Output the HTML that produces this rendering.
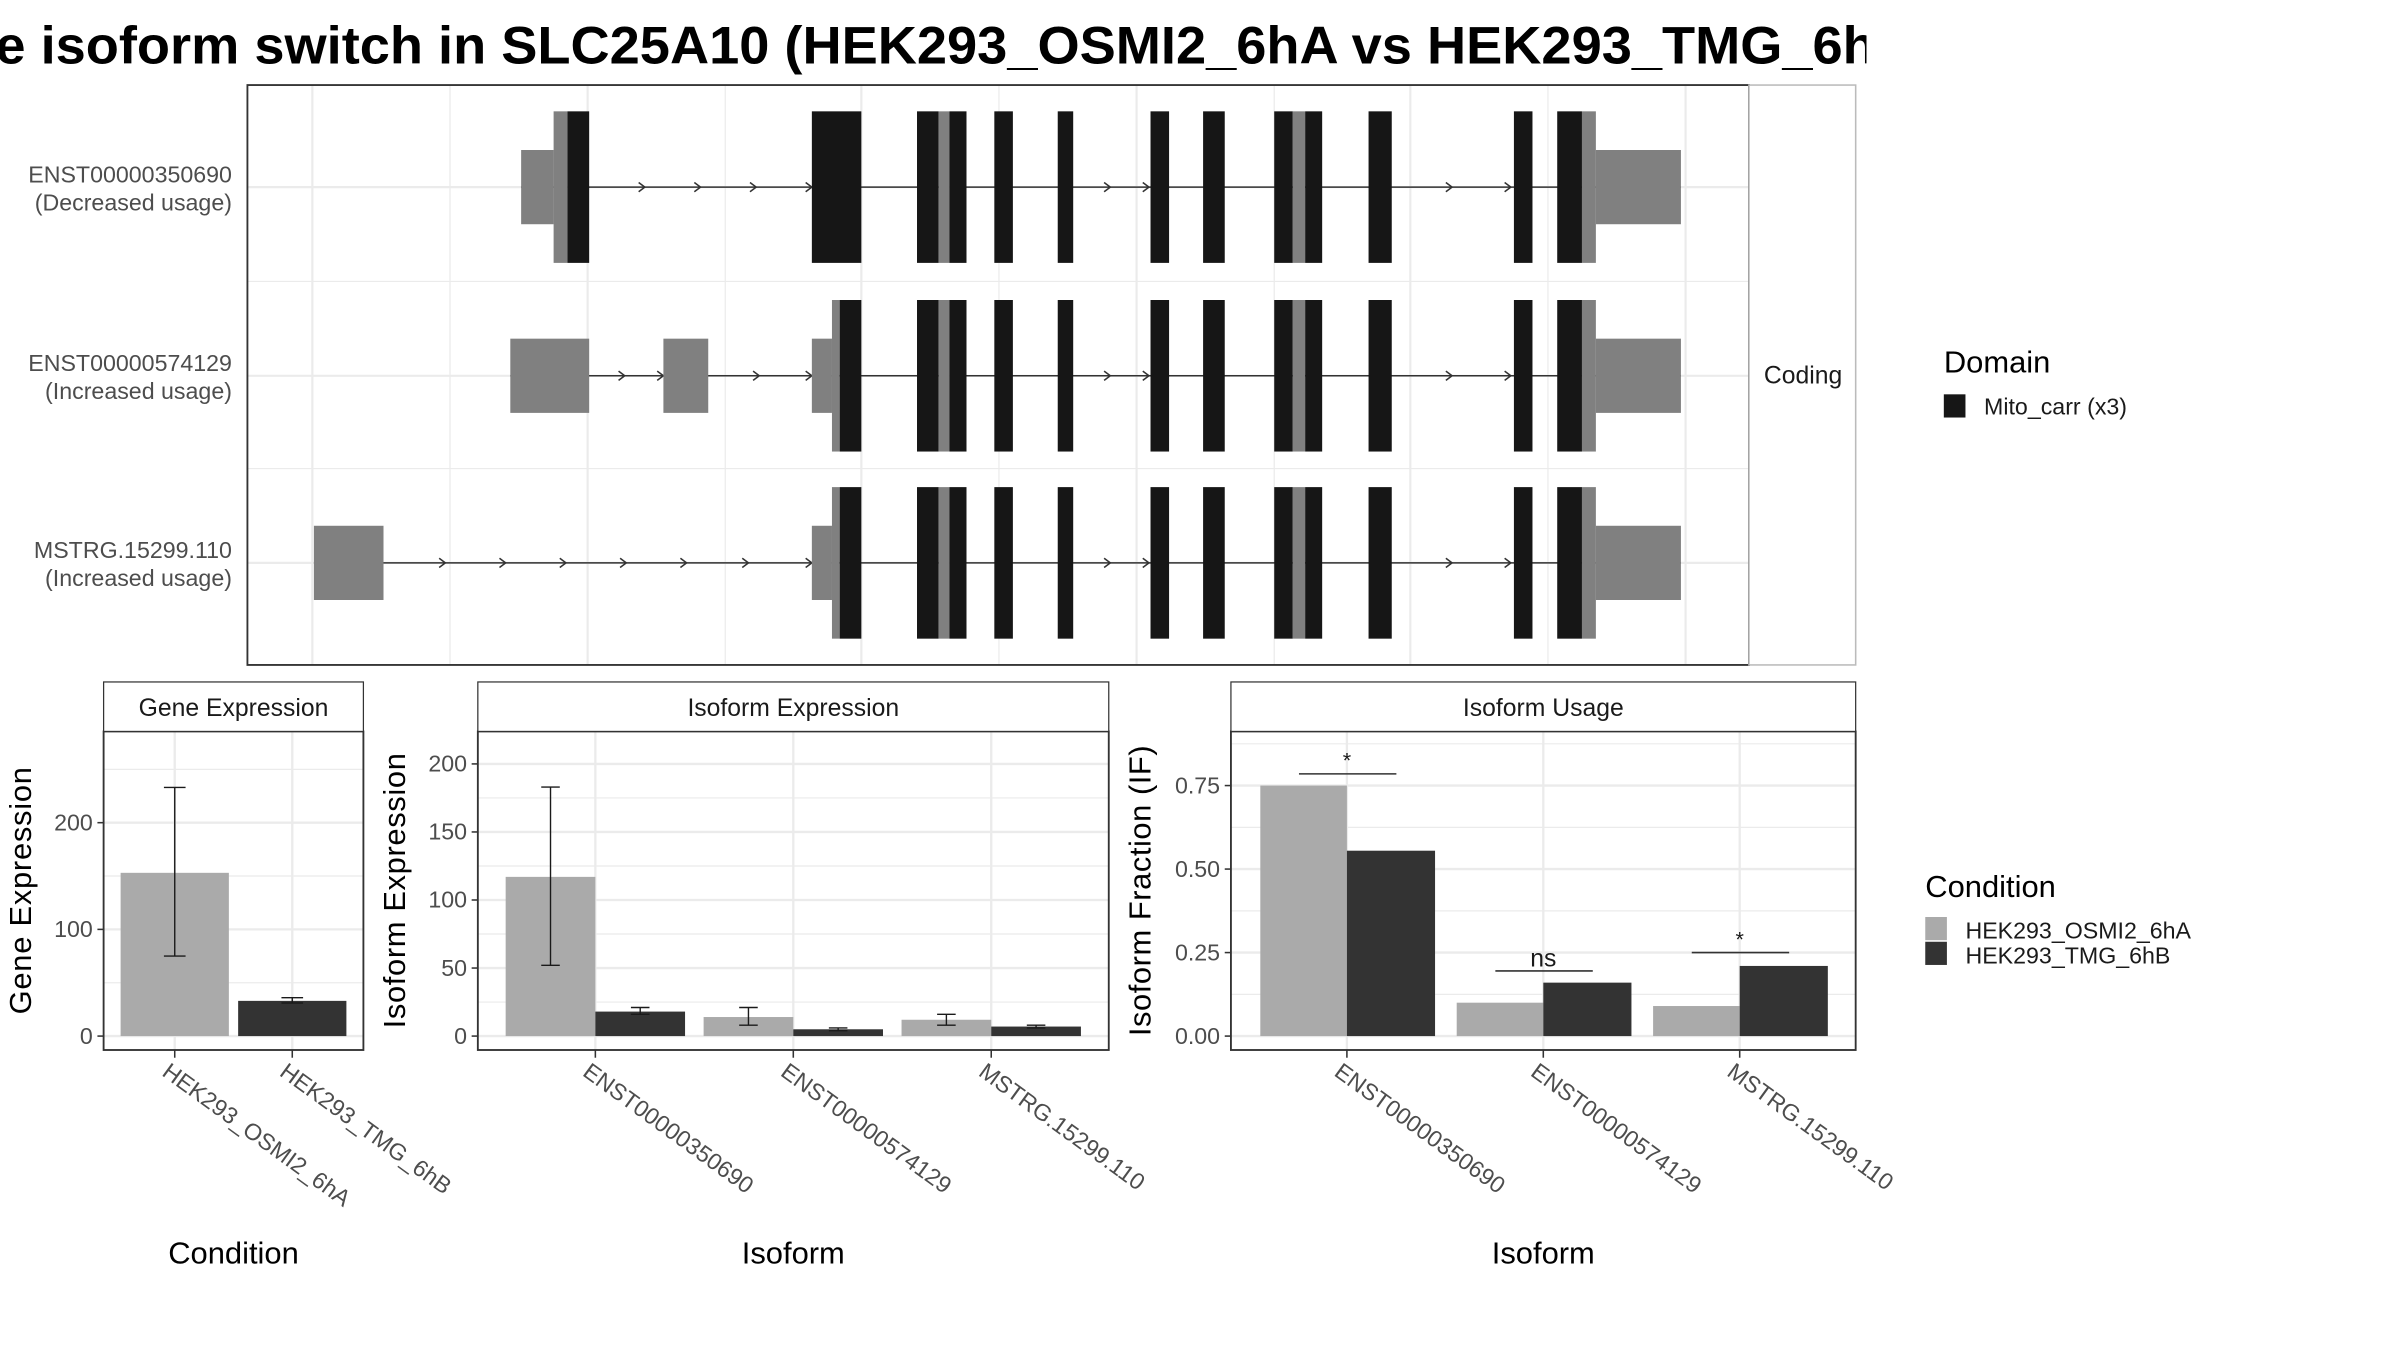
<!DOCTYPE html>
<html><head><meta charset="utf-8"><style>
html,body{margin:0;padding:0;background:#fff;}
svg{display:block;font-family:"Liberation Sans",sans-serif;}
</style></head><body>
<svg id="fig" xmlns="http://www.w3.org/2000/svg" width="2400" height="1350" viewBox="0 0 1552 873" preserveAspectRatio="none">
<defs><clipPath id="tclip"><rect x="0" y="0" width="1207" height="60"/></clipPath></defs>
<rect x="0" y="0" width="1552" height="873" fill="#fff"/>
<g clip-path="url(#tclip)"><text x="-3" y="41" font-size="34" font-weight="bold" textLength="1216" lengthAdjust="spacingAndGlyphs">e isoform switch in SLC25A10 (HEK293_OSMI2_6hA vs HEK293_TMG_6h</text></g>
<g id="topPanel"></g>
<g id="bottomPanels"></g>
<g id="legendGroup"></g>
</svg>
<script>
// ---------- transcript structure data (genomic offset units) ----------
const transcriptNames = ["ENST00000350690", "ENST00000574129", "MSTRG.15299.110"];
const transcriptNotes = ["(Decreased usage)", "(Increased usage)", "(Increased usage)"];
const sharedExons = [[433,447,"d"],[447,454,"c"],[454,465,"d"],[483,495,"d"],[524,534,"d"],[584,596,"d"],[618,632,"d"],[664,676,"d"],[676,684,"c"],[684,695,"d"],[725,740,"d"],[819,831,"d"],[847,863,"d"],[863,872,"c"],[872,927,"u"]];
const headExons1 = [[177,198,"u"],[198,207,"c"],[207,221,"d"],[365,397,"d"]];
const headExons2 = [[170,221,"u"],[269,298,"u"],[365,378,"u"],[378,383,"c"],[383,397,"d"]];
const headExons3 = [[43,88,"u"],[365,378,"u"],[378,383,"c"],[383,397,"d"]];
const arrows1 = [257,293,329,365,558,583,779,817];
const arrows2 = [244,269,331,365,558,583,779,817];
const arrows3 = [128,167,206,245,284,324,365,558,583,779,817];

// ---------- expression data ----------
const conditions = ["HEK293_OSMI2_6hA", "HEK293_TMG_6hB"];
const isoforms = ["ENST00000350690", "ENST00000574129", "MSTRG.15299.110"];
const geneExpr = [153, 33];
const geneLo = [75, 31];
const geneHi = [233, 36];
const geneTicks = [0, 100, 200];
const isoExprA = [117, 14, 12];
const isoExprB = [18, 5, 7];
const isoLoA = [52, 8, 8];
const isoHiA = [183, 21, 16];
const isoLoB = [16, 4, 6];
const isoHiB = [21, 6, 8];
const isoTicks = [0, 50, 100, 150, 200];
const ifA = [0.75, 0.10, 0.09];
const ifB = [0.555, 0.16, 0.21];
const ifTicks = [0, 0.25, 0.5, 0.75];
const ifTickLabels = ["0.00", "0.25", "0.50", "0.75"];
const sigLabels = ["*", "ns", "*"];
const sigLevels = [0.785, 0.195, 0.25];

const NS = "http://www.w3.org/2000/svg";
function mk(parent, tag, attrs, text) {
  const el = document.createElementNS(NS, tag);
  for (const k in attrs) el.setAttribute(k, attrs[k]);
  if (text !== undefined) el.textContent = text;
  parent.appendChild(el);
  return el;
}
const LIGHT = "#aaaaaa", DARK = "#333333", GRID = "#ebebeb", TICK = "#4d4d4d";

// ---------- top panel ----------
const topG = document.getElementById("topPanel");
const xg = p => 160 + p;
const rowY = [121, 243, 364];
let e;
[42, 131, 220, 309, 397, 486, 575, 664, 752, 841, 930].forEach((p, i) => {
  e = mk(topG, "line", {x1: xg(p), x2: xg(p), y1: 55, y2: 430, stroke: GRID, "stroke-width": i % 2 === 0 ? 1.4 : 0.8});
  
  
});
[121, 182, 243, 303, 364].forEach((y, i) => {
  e = mk(topG, "line", {x1: 160, x2: 1131, y1: y, y2: y, stroke: GRID, "stroke-width": i % 2 === 0 ? 1.4 : 0.8});
  
  
});
const heads = [headExons1, headExons2, headExons3];
const arrs = [arrows1, arrows2, arrows3];
transcriptNames.forEach((name, r) => {
  const y = rowY[r];
  const ex = heads[r].concat(sharedExons);
  const s = Math.min(...ex.map(d => d[0])), t = Math.max(...ex.map(d => d[1]));
  e = mk(topG, "line", {x1: xg(s), x2: xg(t), y1: y, y2: y, stroke: "#333", "stroke-width": 1});
  
  
  arrs[r].forEach(a => {
    e = mk(topG, "path", {d: `M${xg(a)-4},${y-3} L${xg(a)},${y} L${xg(a)-4},${y+3}`, stroke: "#333", fill: "none", "stroke-width": 1});
    
    
  });
  ex.forEach(d => {
    const h = d[2] === "u" ? 24 : 49;
    e = mk(topG, "rect", {x: xg(d[0]), y: y - h, width: d[1] - d[0], height: 2 * h, fill: d[2] === "d" ? "#161616" : "#808080"});
    
    
  });
  e = mk(topG, "text", {x: 150, y: y - 3, "text-anchor": "end", "font-size": 15, fill: TICK}, name);
  
  
  e = mk(topG, "text", {x: 150, y: y + 15, "text-anchor": "end", "font-size": 15, fill: TICK}, transcriptNotes[r]);
  
  
});
e = mk(topG, "rect", {x: 160, y: 55, width: 971, height: 375, fill: "none", stroke: "#333", "stroke-width": 1.2});


e = mk(topG, "rect", {x: 1131, y: 55, width: 69, height: 375, fill: "#fff", stroke: "#bbb", "stroke-width": 1});


e = mk(topG, "text", {x: 1166, y: 248, "text-anchor": "middle", "font-size": 16, fill: "#1a1a1a"}, "Coding");



// ---------- bottom panels ----------
const bottomG = document.getElementById("bottomPanels");
function panel(cfg) {
  const g = mk(bottomG, "g", {});
  
  
  const x0 = cfg.x0, x1 = cfg.x1, ticks = cfg.ticks, tickLabels = cfg.tickLabels;
  const py0 = 473, py1 = 679, zeroY = 670;
  const ys = v => zeroY - v * cfg.k;
  for (let i = 0; i < ticks.length; i++) {
    const mid = i + 1 < ticks.length ? (ticks[i] + ticks[i + 1]) / 2 : ticks[i] + (ticks[1] - ticks[0]) / 2;
    if (ys(mid) > py0) { e = mk(g, "line", {x1: x0, x2: x1, y1: ys(mid), y2: ys(mid), stroke: GRID, "stroke-width": 0.8});   }
  }
  ticks.forEach((t, i) => {
    e = mk(g, "line", {x1: x0, x2: x1, y1: ys(t), y2: ys(t), stroke: GRID, "stroke-width": 1.5});
    
    
    e = mk(g, "line", {x1: x0 - 4, x2: x0, y1: ys(t), y2: ys(t), stroke: "#333", "stroke-width": 1});
    
    
    e = mk(g, "text", {x: x0 - 7, y: ys(t) + 5, "text-anchor": "end", "font-size": 15, fill: TICK}, tickLabels[i]);
    
    
  });
  cfg.cats.forEach((c, i) => {
    const cx = cfg.cx[i];
    e = mk(g, "line", {x1: cx, x2: cx, y1: py0, y2: py1, stroke: GRID, "stroke-width": 1.5});
    
    
  });
  cfg.draw(g, ys);
  cfg.cats.forEach((c, i) => {
    const cx = cfg.cx[i];
    e = mk(g, "line", {x1: cx, x2: cx, y1: py1, y2: py1 + 5, stroke: "#333", "stroke-width": 1});
    
    
    e = mk(g, "text", {x: 0, y: 0, "font-size": 15, fill: TICK, transform: `translate(${cx - 9},${py1 + 16}) rotate(36)`}, c);
    
    
  });
  e = mk(g, "rect", {x: x0, y: py0, width: x1 - x0, height: py1 - py0, fill: "none", stroke: "#333", "stroke-width": 1.2});
  
  
  e = mk(g, "rect", {x: x0, y: 441, width: x1 - x0, height: 32, fill: "#fff", stroke: "#333", "stroke-width": 0.8});
  
  
  e = mk(g, "text", {x: (x0 + x1) / 2, y: 463, "text-anchor": "middle", "font-size": 16, fill: "#1a1a1a"}, cfg.strip);
  
  
  e = mk(g, "text", {x: 0, y: 0, "text-anchor": "middle", "font-size": 20, textLength: cfg.ytLen, lengthAdjust: "spacing", transform: `translate(${cfg.ytX},576) rotate(-90)`}, cfg.ytitle);
  
  
  e = mk(g, "text", {x: (x0 + x1) / 2, y: 817, "text-anchor": "middle", "font-size": 20}, cfg.xtitle);
  
  
}
function errbar(g, cx, ylo, yhi, w) {
  e = mk(g, "path", {d: `M${cx},${ylo} L${cx},${yhi} M${cx - w},${ylo} L${cx + w},${ylo} M${cx - w},${yhi} L${cx + w},${yhi}`, stroke: "#1a1a1a", fill: "none", "stroke-width": 0.9});
  
  
}
panel({name: "gene-expression-panel", x0: 67, x1: 235, k: 0.69, ticks: geneTicks, tickLabels: geneTicks.map(String),
  cats: conditions, cx: [113, 189], strip: "Gene Expression", ytitle: "Gene Expression", ytX: 20, ytLen: 160, xtitle: "Condition",
  draw: (g, ys) => {
    geneExpr.forEach((v, i) => {
      const cx = [113, 189][i];
      e = mk(g, "rect", {x: cx - 35, y: ys(v), width: 70, height: ys(0) - ys(v), fill: i === 0 ? LIGHT : DARK});
      
      
      errbar(g, cx, ys(geneLo[i]), ys(geneHi[i]), 7);
    });
  }});
panel({name: "isoform-expression-panel", x0: 309, x1: 717, k: 0.88, ticks: isoTicks, tickLabels: isoTicks.map(String),
  cats: isoforms, cx: [385, 513, 641], strip: "Isoform Expression", ytitle: "Isoform Expression", ytX: 262, ytLen: 178, xtitle: "Isoform",
  draw: (g, ys) => {
    isoforms.forEach((c, i) => {
      const cx = [385, 513, 641][i];
      e = mk(g, "rect", {x: cx - 58, y: ys(isoExprA[i]), width: 58, height: ys(0) - ys(isoExprA[i]), fill: LIGHT});
      
      
      e = mk(g, "rect", {x: cx, y: ys(isoExprB[i]), width: 58, height: ys(0) - ys(isoExprB[i]), fill: DARK});
      
      
      errbar(g, cx - 29, ys(isoLoA[i]), ys(isoHiA[i]), 6);
      errbar(g, cx + 29, ys(isoLoB[i]), ys(isoHiB[i]), 6);
    });
  }});
panel({name: "isoform-usage-panel", x0: 796, x1: 1200, k: 216, ticks: ifTicks, tickLabels: ifTickLabels,
  cats: isoforms, cx: [871, 998, 1125], strip: "Isoform Usage", ytitle: "Isoform Fraction (IF)", ytX: 744, ytLen: 188, xtitle: "Isoform",
  draw: (g, ys) => {
    isoforms.forEach((c, i) => {
      const cx = [871, 998, 1125][i];
      e = mk(g, "rect", {x: cx - 56, y: ys(ifA[i]), width: 56, height: ys(0) - ys(ifA[i]), fill: LIGHT});
      
      
      e = mk(g, "rect", {x: cx, y: ys(ifB[i]), width: 57, height: ys(0) - ys(ifB[i]), fill: DARK});
      
      
      const sy = ys(sigLevels[i]);
      e = mk(g, "line", {x1: cx - 31, x2: cx + 32, y1: sy, y2: sy, stroke: "#333", "stroke-width": 1});
      
      
      e = mk(g, "text", {x: cx, y: sy - (sigLabels[i] === "*" ? 4 : 3), "text-anchor": "middle", "font-size": sigLabels[i] === "*" ? 14 : 16, fill: "#1a1a1a"}, sigLabels[i]);
      
      
    });
  }});

// ---------- legends ----------
const lg = document.getElementById("legendGroup");
e = mk(lg, "text", {x: 1257, y: 241, "font-size": 20}, "Domain");


e = mk(lg, "rect", {x: 1257, y: 255, width: 14, height: 15, fill: "#161616"});


e = mk(lg, "text", {x: 1283, y: 268, "font-size": 15, fill: "#1a1a1a"}, "Mito_carr (x3)");


e = mk(lg, "text", {x: 1245, y: 580, "font-size": 20}, "Condition");


conditions.forEach((c, i) => {
  e = mk(lg, "rect", {x: 1245, y: 593 + i * 16, width: 14, height: 15, fill: i === 0 ? LIGHT : DARK});
  
  
  e = mk(lg, "text", {x: 1271, y: 607 + i * 16, "font-size": 15, fill: "#1a1a1a"}, c);
  
  
});
</script>
</body></html>
